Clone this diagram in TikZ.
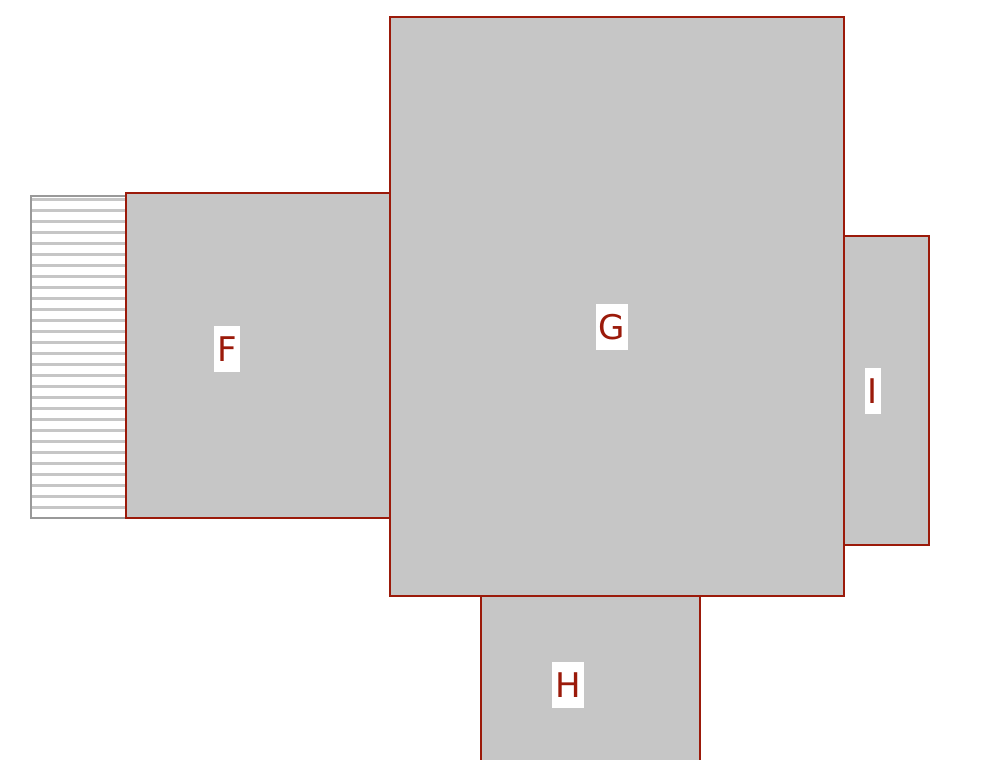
\documentclass[tikz,border=0pt]{standalone}
\usepackage{fontspec}
\setmainfont{DejaVu Sans}
\usepackage{tikz}
\definecolor{wallRed}{HTML}{9b1a0a}
\definecolor{roomGray}{HTML}{c6c6c6}
\definecolor{edgeGray}{HTML}{999999}

\begin{document}
\begin{tikzpicture}[
          x=1pt, y=-1pt,
          room/.style={draw=wallRed, fill=roomGray, line width=2.8pt},
          roomlabel/.style={fill=white, text=wallRed, inner xsep=3pt, inner ysep=0pt,
                            minimum height=46pt, font=\fontsize{34}{34}\selectfont},
          hatchline/.style={draw=roomGray, line width=3pt}
        ]
        \useasboundingbox (0,0) rectangle (1002,760);
        \clip (0,0) rectangle (1002,760);
        % hatched strip left of F
        \foreach \y in {199,210,...,507}
          \draw[hatchline] (31,\y) -- (126,\y);
        \draw[edgeGray, line width=2.6pt] (126,196) -- (31,196) -- (31,518) -- (126,518);
        % rooms
        \draw[room] (126,193) rectangle (390,518);
        \draw[room] (844,236) rectangle (929,545);
        \draw[room] (481,596) rectangle (700,800);
        \draw[room] (390,17) rectangle (844,596);
        % labels
        \node[roomlabel] (labF) at (227,349) {F};
        \node[roomlabel] (labG) at (612,327) {G};
        \node[roomlabel] (labI) at (873,391) {I};
        \node[roomlabel] (labH) at (568,685) {H};
      \end{tikzpicture}
\end{document}
